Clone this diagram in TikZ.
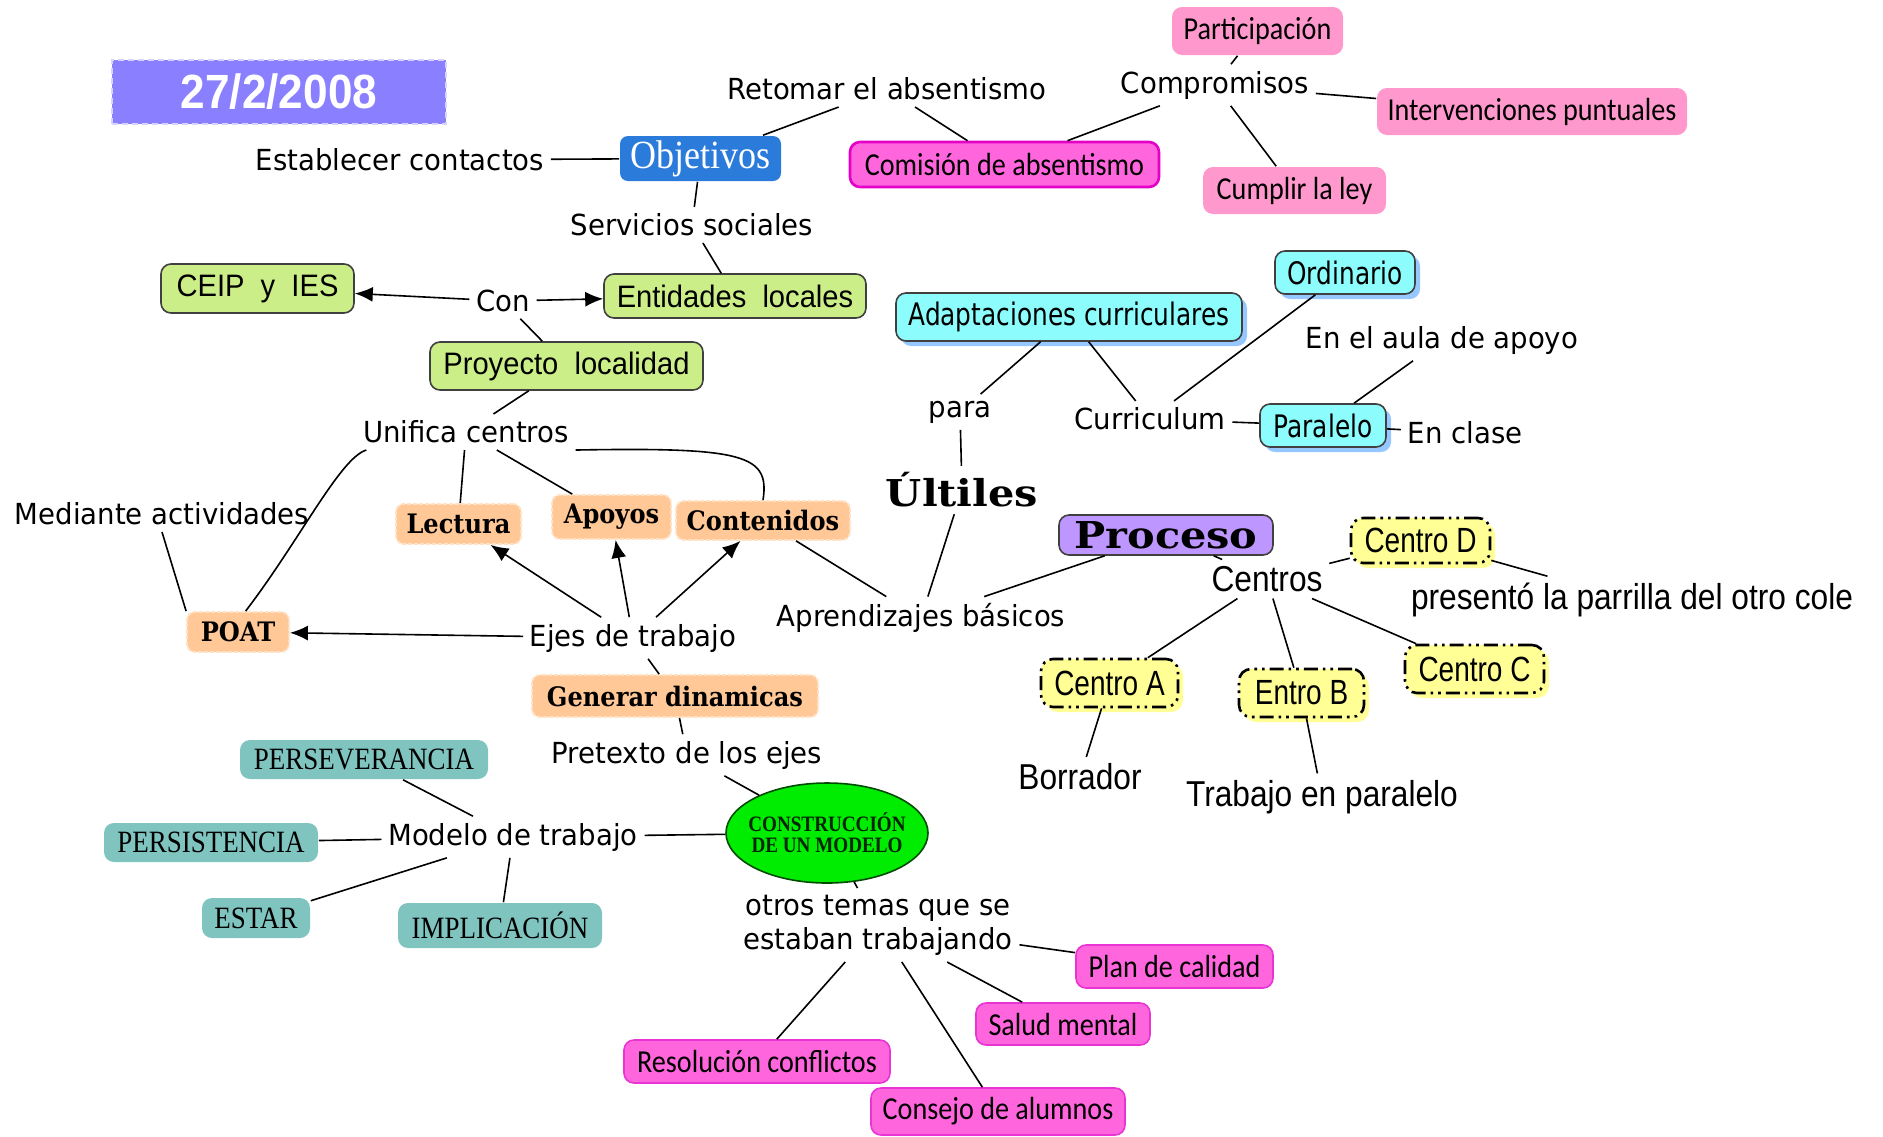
\documentclass[tikz,border=0pt]{standalone}
\usepackage{fontspec}
\usetikzlibrary{arrows.meta,shapes.geometric,calc,shadows}
\newfontfamily\flab[FakeStretch=0.95]{DejaVu Sans}
\newfontfamily\fars[FakeStretch=0.94]{Liberation Sans}
\newfontfamily\fcal[FakeStretch=0.88]{Carlito}
\newfontfamily\ftah[FakeStretch=0.8]{DejaVu Sans}
\newfontfamily\fnarrow[FakeStretch=0.8]{Liberation Sans}
\newfontfamily\fnlab[FakeStretch=0.88]{Liberation Sans}
\newfontfamily\fheavy[FakeStretch=1.12]{DejaVu Serif}
\newfontfamily\fcbold[FakeStretch=0.9]{DejaVu Serif}
\newfontfamily\fser[FakeStretch=0.87]{Liberation Serif}
\newfontfamily\fobj[FakeStretch=0.9]{Liberation Serif}
\newfontfamily\fdate[FakeStretch=0.92]{Liberation Sans}
\definecolor{datecol}{RGB}{138,128,255}
\definecolor{objcol}{RGB}{43,123,219}
\definecolor{magfill}{RGB}{255,102,221}
\definecolor{magedge}{RGB}{228,0,200}
\definecolor{pinkfill}{RGB}{255,152,204}
\definecolor{grnfill}{RGB}{204,238,136}
\definecolor{peachfill}{RGB}{255,200,150}
\definecolor{cyanfill}{RGB}{140,252,252}
\definecolor{cyanshadow}{RGB}{150,200,255}
\definecolor{lavfill}{RGB}{190,150,255}
\definecolor{yelfill}{RGB}{255,255,150}
\definecolor{tealfill}{RGB}{128,196,192}
\definecolor{elgreen}{RGB}{0,236,0}
\tikzset{
  sz/.style 2 args={minimum width=#1pt, minimum height=#2pt, inner sep=0pt},
  lab/.style={inner sep=3pt, font=\flab\fontsize{14.5}{17}\selectfont},
  nlab/.style={inner sep=3pt, font=\fnlab\fontsize{18}{20}\selectfont},
  heavylab/.style={inner sep=3pt, font=\fheavy\bfseries\fontsize{18.5}{20}\selectfont},
  datebox/.style={fill=datecol, draw=white!65!datecol, dash pattern=on 3pt off 2pt, line width=1pt, text=white, font=\fdate\bfseries\fontsize{24}{26}\selectfont},
  objbox/.style={rounded corners=4pt, fill=objcol, text=white, font=\fobj\fontsize{20}{22}\selectfont},
  comision/.style={rounded corners=5pt, fill=magfill, draw=magedge, line width=1.3pt, font=\fcal\fontsize{16}{18}\selectfont},
  pinkbox/.style={rounded corners=5pt, fill=pinkfill, font=\fcal\fontsize{16}{18}\selectfont},
  magbox/.style={rounded corners=5pt, fill=magfill, draw=magedge!80, line width=0.8pt, font=\fcal\fontsize{16}{18}\selectfont},
  greenbox/.style={rounded corners=5pt, fill=grnfill, draw=black!75, line width=0.8pt, font=\fars\fontsize{15.5}{17}\selectfont},
  peach/.style={rounded corners=4pt, fill=peachfill, draw=white!45!peachfill, dash pattern=on 2pt off 1pt, line width=0.9pt, font=\fcbold\bfseries\fontsize{13.4}{15}\selectfont},
  cyanbox/.style={rounded corners=5pt, fill=cyanfill, draw=black!75, line width=0.8pt, drop shadow={fill=cyanshadow, opacity=1, shadow xshift=2.5pt, shadow yshift=-2.5pt}, font=\ftah\fontsize{15.5}{17}\selectfont},
  procbox/.style={rounded corners=5pt, fill=lavfill, draw=black!75, line width=0.8pt, font=\fheavy\bfseries\fontsize{18.5}{20}\selectfont},
  yelbox/.style={rounded corners=6pt, fill=yelfill, draw=black, line width=1.3pt, dash pattern=on 7pt off 2.5pt on 1.3pt off 2.5pt on 1.3pt off 2.5pt, drop shadow={fill=yelfill, opacity=1, shadow xshift=2.5pt, shadow yshift=-2.5pt}, font=\fnarrow\fontsize{17.5}{19}\selectfont},
  teal/.style={rounded corners=5pt, fill=tealfill, font=\fser\fontsize{15.5}{17}\selectfont},
  arr/.style={-{Latex[length=9pt,width=7.5pt]}},
}
\begin{document}
\begin{tikzpicture}[x=0.5pt,y=-0.5pt,line width=0.8pt]
\fill[white] (0,0) rectangle (1883,1136);
\useasboundingbox (0,0) rectangle (1883,1136);
% nodes
\node[datebox, sz={167}{32}] (date) at (279,92) {27/2/2008};
\node[objbox, sz={80.5}{22.5}] (obj) at (700.5,158.5) {Objetivos};
\node[lab] (estab) at (400,160) {Establecer contactos};
\node[lab] (retomar) at (887,89) {Retomar el absentismo};
\node[lab] (serv) at (692,225) {Servicios sociales};
\node[comision, sz={154.5}{22.5}] (comis) at (1004.5,164.5) {Comisión de absentismo};
\node[lab] (comp) at (1215,85) {Compromisos};
\node[pinkbox, sz={85.5}{24}] (partic) at (1257.5,31) {Participación};
\node[pinkbox, sz={155}{23.5}] (interv) at (1532,111.5) {Intervenciones puntuales};
\node[pinkbox, sz={91.5}{23.5}] (cumplir) at (1294.5,190.5) {Cumplir la ley};
\node[greenbox, sz={131}{22}] (entid) at (735,296) {Entidades~~locales};
\node[greenbox, sz={96.5}{24.5}] (ceip) at (257.5,288.5) {CEIP~~y~~IES};
\node[lab] (con) at (503,301) {Con};
\node[greenbox, sz={136.5}{24}] (proy) at (566.5,366) {Proyecto~~localidad};
\node[lab] (unif) at (466,432) {Unifica centros};
\node[lab] (med) at (162,514) {Mediante actividades};
\node[peach, sz={62.5}{20}] (lect) at (458.5,524) {Lectura};
\node[peach, sz={59.5}{22}] (apoy) at (611.5,517) {Apoyos};
\node[peach, sz={87}{19.5}] (cont) at (763,520.5) {Contenidos};
\node[peach, sz={51}{20}] (poat) at (238,632) {POAT};
\node[lab] (ejes) at (633,638) {Ejes de trabajo};
\node[peach, sz={143}{21}] (gen) at (675,696) {Generar dinamicas};
\node[lab] (apren) at (921,618) {Aprendizajes básicos};
\node[heavylab] (utiles) at (962,490) {Últiles};
\node[lab] (para) at (960,412) {para};
\node[cyanbox, sz={173}{24}] (adapt) at (1069,317) {Adaptaciones curriculares};
\node[lab] (curr) at (1150,419) {Curriculum};
\node[cyanbox, sz={70}{21.5}] (ordin) at (1345,272.5) {Ordinario};
\node[cyanbox, sz={63}{21.5}] (paral) at (1323,425.5) {Paralelo};
\node[lab] (aula) at (1442,340) {En el aula de apoyo};
\node[lab] (clase) at (1465,433) {En clase};
\node[procbox, sz={107}{20}] (proc) at (1166,535) {Proceso};
\node[nlab] (centros) at (1267,579) {Centros};
\node[yelbox, sz={69.5}{22.5}] (cd) at (1420.5,540.5) {Centro D};
\node[nlab] (pres) at (1632,600) {presentó la parrilla del otro cole};
\node[yelbox, sz={68.5}{24}] (ca) at (1109.5,683) {Centro A};
\node[yelbox, sz={62.5}{24}] (cb) at (1301.5,693) {Entro B};
\node[yelbox, sz={69.5}{24}] (cc) at (1474.5,669) {Centro C};
\node[nlab] (borr) at (1080,777) {Borrador};
\node[nlab] (trab) at (1322,797) {Trabajo en paralelo};
\node[lab] (pret) at (687,755) {Pretexto de los ejes};
\node[ellipse, minimum width=101pt, minimum height=50pt, inner sep=0pt, fill=elgreen, draw=black!70!green, line width=0.8pt] (cons) at (827,833) {};
\node[align=center, inner sep=0pt, text=black!85!green, font=\fser\bfseries\fontsize{11}{10.5}\selectfont] (constext) at (cons.center) {CONSTRUCCIÓN\\DE UN MODELO};
\node[lab] (modelo) at (513,837) {Modelo de trabajo};
\node[teal, sz={124}{19.5}] (pers) at (364,759.5) {PERSEVERANCIA};
\node[teal, sz={107}{19.5}] (persi) at (211,842.5) {PERSISTENCIA};
\node[teal, sz={54}{20}] (estar) at (256,918) {ESTAR};
\node[teal, sz={102}{22.5}] (impl) at (500,925.5) {IMPLICACIÓN};
\node[lab, align=center] (otros) at (878,925) {otros temas que se\\estaban trabajando};
\node[magbox, sz={98.5}{21.5}] (plan) at (1174.5,966.5) {Plan de calidad};
\node[magbox, sz={87}{21}] (salud) at (1063,1024) {Salud mental};
\node[magbox, sz={133}{21.5}] (resol) at (757,1061.5) {Resolución conflictos};
\node[magbox, sz={127}{23.5}] (consejo) at (998,1111.5) {Consejo de alumnos};
% connectors
\draw (estab) -- (obj);
\draw (obj) -- (retomar);
\draw (obj) -- (serv);
\draw (retomar) -- (comis);
\draw (comp) -- (comis);
\draw ($(comp.north)+(16,0)$) -- ($(partic.south)+(-20,0)$);
\draw (comp) -- (interv);
\draw (comp) -- (cumplir);
\draw (serv) -- (entid);
\draw[arr] (con) -- (ceip);
\draw[arr] (con) -- (entid);
\draw (con) -- (proy);
\draw (proy) -- (unif);
\draw (unif) -- (lect);
\draw (unif) -- (apoy);
\draw (unif.south east) .. controls (745,447) and (770,455) .. (cont.north);
\draw ($(unif.south west)+(10,0)$) .. controls (340,458) and (300,540) .. (poat.70);
\draw (med.south) -- (poat.north west);
\draw[arr] (ejes) -- (poat);
\draw[arr] (ejes) -- (lect);
\draw[arr] (ejes) -- (apoy);
\draw[arr] (ejes) -- (cont);
\draw (ejes) -- (gen);
\draw (cont) -- (apren);
\draw (gen) -- (pret);
\draw (pret) -- (cons);
\draw (modelo) -- (cons);
\draw (modelo) -- (pers);
\draw (modelo) -- (persi);
\draw (modelo) -- (estar);
\draw (modelo) -- (impl);
\draw (cons) -- (otros);
\draw (otros) -- (plan);
\draw (otros) -- (salud);
\draw (otros) -- (resol);
\draw (otros) -- (consejo);
\draw (adapt) -- (para);
\draw (adapt) -- (curr);
\draw (para) -- (utiles);
\draw (utiles) -- (apren);
\draw (curr) -- (ordin);
\draw (curr) -- (paral);
\draw (paral) -- (aula);
\draw (paral) -- (clase);
\draw (proc) -- (apren);
\draw (proc) -- (centros);
\draw (centros) -- (cd);
\draw (cd) -- (pres);
\draw (centros) -- (ca);
\draw (centros) -- (cb);
\draw (centros) -- (cc);
\draw (ca) -- (borr);
\draw (cb) -- (trab);
\end{tikzpicture}
\end{document}
